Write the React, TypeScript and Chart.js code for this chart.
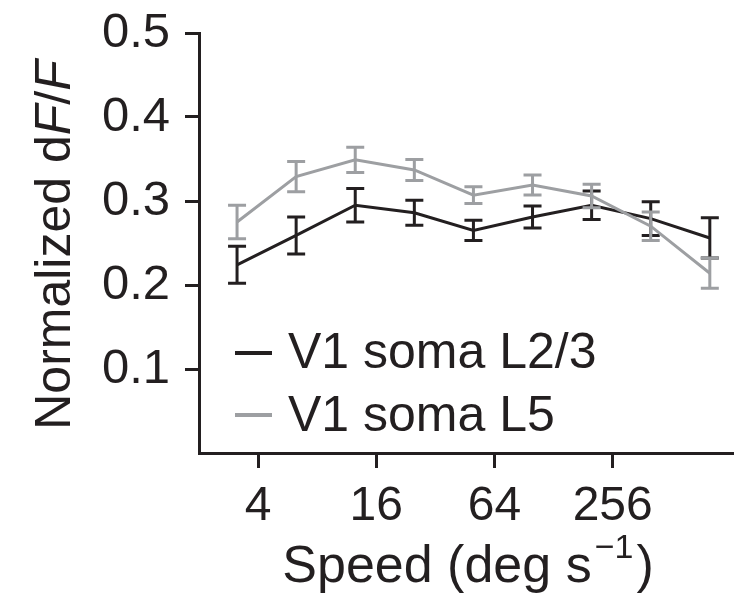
import React, { useEffect, useRef } from 'react';
import { Chart, registerables } from 'chart.js';

Chart.register(...registerables);

// ---- Data ----
const speeds = [3.125, 6.25, 12.5, 25, 50, 100, 200, 400, 800];
const l23Mean = [0.224, 0.259, 0.295, 0.286, 0.265, 0.281, 0.295, 0.279, 0.256];
const l23Sem = [0.022, 0.022, 0.020, 0.015, 0.012, 0.013, 0.017, 0.020, 0.024];
const l5Mean = [0.275, 0.329, 0.349, 0.337, 0.307, 0.319, 0.306, 0.270, 0.214];
const l5Sem = [0.020, 0.018, 0.015, 0.0125, 0.010, 0.012, 0.014, 0.017, 0.018];
const seriesLabels = ['V1 soma L2/3', 'V1 soma L5'];
const xTickValues = [4, 16, 64, 256];
const yTickValues = [0.1, 0.2, 0.3, 0.4, 0.5];

const BLACK = '#231f20';
const GRAY = '#9d9fa2';
const FONT = '"Liberation Sans", Arial, Helvetica, sans-serif';

const errorBarPlugin = {
  id: 'errorBars',
  afterDatasetDraw(chart: any, args: any) {
    const ds = chart.data.datasets[args.index];
    const errs: number[] = ds.errors;
    if (!errs) return;
    const xs = chart.scales.x;
    const ys = chart.scales.y;
    const ctx = chart.ctx;
    ctx.save();
    ctx.strokeStyle = ds.borderColor;
    ctx.lineWidth = 3;
    ctx.lineCap = 'butt';
    ds.data.forEach((p: any, i: number) => {
      const x = xs.getPixelForValue(p.x);
      const yTop = ys.getPixelForValue(p.y + errs[i]);
      const yBot = ys.getPixelForValue(p.y - errs[i]);
      const half = 9;
      ctx.beginPath();
      ctx.moveTo(x, yTop);
      ctx.lineTo(x, yBot);
      ctx.moveTo(x - half, yTop);
      ctx.lineTo(x + half, yTop);
      ctx.moveTo(x - half, yBot);
      ctx.lineTo(x + half, yBot);
      ctx.stroke();
    });
    ctx.restore();
  },
};

const annotationsPlugin = {
  id: 'annotations',
  afterDraw(chart: any) {
    const ctx = chart.ctx;
    ctx.save();
    ctx.fillStyle = BLACK;

    // Y axis title: "Normalized dF/F" with italic F
    const parts = [
      { t: 'Normalized d', italic: false },
      { t: 'F', italic: true },
      { t: '/', italic: false },
      { t: 'F', italic: true },
    ];
    const size = 50;
    let total = 0;
    const widths = parts.map((p) => {
      ctx.font = `${p.italic ? 'italic ' : ''}${size}px ${FONT}`;
      const w = ctx.measureText(p.t).width;
      total += w;
      return w;
    });
    ctx.save();
    ctx.translate(70, 245);
    ctx.rotate(-Math.PI / 2);
    ctx.textBaseline = 'alphabetic';
    ctx.textAlign = 'left';
    let cx = -total / 2;
    parts.forEach((p, i) => {
      ctx.font = `${p.italic ? 'italic ' : ''}${size}px ${FONT}`;
      ctx.fillText(p.t, cx, 0);
      cx += widths[i];
    });
    ctx.restore();

    // X axis title: "Speed (deg s^-1)"
    const main = 'Speed (deg s';
    const sup = '\u22121';
    const close = ')';
    const xSize = 52;
    const supSize = 34;
    ctx.textBaseline = 'alphabetic';
    ctx.textAlign = 'left';
    ctx.font = `${xSize}px ${FONT}`;
    const wMain = ctx.measureText(main).width;
    const wClose = ctx.measureText(close).width;
    ctx.font = `${supSize}px ${FONT}`;
    const wSup = ctx.measureText(sup).width;
    const xCenter = 468;
    let x0 = xCenter - (wMain + wSup + 6 + wClose) / 2;
    const base = 582;
    ctx.font = `${xSize}px ${FONT}`;
    ctx.fillText(main, x0, base);
    x0 += wMain + 3;
    ctx.font = `${supSize}px ${FONT}`;
    ctx.fillText(sup, x0, base - 24);
    x0 += wSup + 3;
    ctx.font = `${xSize}px ${FONT}`;
    ctx.fillText(close, x0, base);

    // Legend
    const rows = [
      { y: 353, base: 368 },
      { y: 415, base: 431 },
    ];
    chart.data.datasets.forEach((ds: any, i: number) => {
      const r = rows[i];
      ctx.strokeStyle = ds.borderColor;
      ctx.lineWidth = 4;
      ctx.beginPath();
      ctx.moveTo(235, r.y);
      ctx.lineTo(272, r.y);
      ctx.stroke();
      ctx.fillStyle = BLACK;
      ctx.font = `${size}px ${FONT}`;
      ctx.fillText(ds.label, 288, r.base);
    });
    ctx.restore();
  },
};

export default function App() {
  const canvasRef = useRef<HTMLCanvasElement | null>(null);

  useEffect(() => {
    if (!canvasRef.current) return;
    const chart = new Chart(canvasRef.current, {
      type: 'line',
      data: {
        datasets: [
          {
            label: seriesLabels[0],
            data: speeds.map((s, i) => ({ x: s, y: l23Mean[i] })),
            borderColor: BLACK,
            backgroundColor: BLACK,
            borderWidth: 3,
            pointRadius: 0,
            tension: 0,
            order: 1,
            errors: l23Sem,
          } as any,
          {
            label: seriesLabels[1],
            data: speeds.map((s, i) => ({ x: s, y: l5Mean[i] })),
            borderColor: GRAY,
            backgroundColor: GRAY,
            borderWidth: 3,
            pointRadius: 0,
            tension: 0,
            order: 0,
            errors: l5Sem,
          } as any,
        ],
      },
      options: {
        responsive: false,
        animation: false,
        devicePixelRatio: 1,
        layout: { padding: { left: 0, right: 13, top: 33, bottom: 0 } },
        plugins: {
          legend: { display: false },
          tooltip: { enabled: false },
        },
        scales: {
          x: {
            type: 'logarithmic',
            min: 2,
            max: 1050,
            afterBuildTicks: (s: any) => {
              s.ticks = xTickValues.map((v) => ({ value: v }));
            },
            afterFit: (s: any) => {
              s.height = 148;
              s.paddingLeft = 0;
              s.paddingRight = 0;
            },
            ticks: {
              callback: (v: any) => String(v),
              font: { family: FONT, size: 48 },
              color: BLACK,
              padding: 10,
              maxRotation: 0,
              autoSkip: false,
            },
            grid: {
              drawOnChartArea: false,
              drawTicks: true,
              tickLength: 15,
              tickWidth: 3,
              tickColor: BLACK,
            },
            border: { display: true, width: 3, color: BLACK },
          },
          y: {
            min: 0,
            max: 0.5,
            afterBuildTicks: (s: any) => {
              s.ticks = yTickValues.map((v) => ({ value: v }));
            },
            afterFit: (s: any) => {
              s.width = 199;
              s.paddingTop = 0;
              s.paddingBottom = 0;
            },
            ticks: {
              callback: (v: any) => Number(v).toFixed(1),
              font: { family: FONT, size: 49 },
              color: BLACK,
              padding: 15,
            },
            grid: {
              drawOnChartArea: false,
              drawTicks: true,
              tickLength: 14,
              tickWidth: 3,
              tickColor: BLACK,
            },
            border: { display: true, width: 3, color: BLACK },
          },
        },
      } as any,
      plugins: [errorBarPlugin, annotationsPlugin],
    });
    return () => chart.destroy();
  }, []);

  return (
    <div style={{ position: 'absolute', left: 0, top: 0, width: 746, height: 601, background: '#fff' }}>
      <canvas ref={canvasRef} width={746} height={601} style={{ display: 'block' }} />
    </div>
  );
}
